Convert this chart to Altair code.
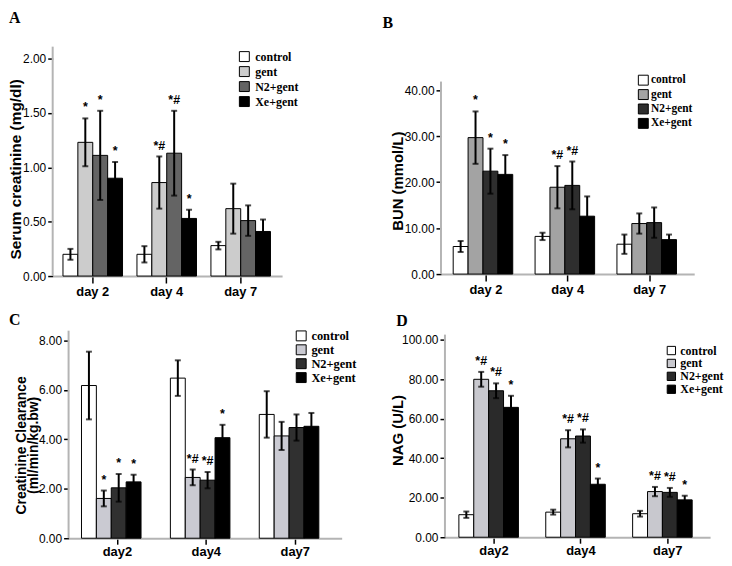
import altair as alt
import pandas as pd

groups = ["control", "gent", "N2+gent", "Xe+gent"]
days_top = ["day 2", "day 4", "day 7"]
days_bottom = ["day2", "day4", "day7"]

# A: Serum creatinine (mg/dl)  (order: day x group)
crea_mean = [0.20, 1.23, 1.11, 0.90, 0.20, 0.86, 1.13, 0.53, 0.28, 0.62, 0.51, 0.41]
crea_err = [0.05, 0.22, 0.41, 0.15, 0.075, 0.24, 0.39, 0.08, 0.035, 0.23, 0.14, 0.11]
crea_sig = ["", "*", "*", "*", "", "*#", "*#", "*", "", "", "", ""]

# B: BUN (mmol/L)
bun_mean = [6.0, 29.7, 22.4, 21.7, 8.2, 18.9, 19.3, 12.6, 6.5, 11.0, 11.2, 7.5]
bun_err = [1.2, 5.7, 4.9, 4.2, 0.8, 4.6, 5.2, 4.3, 2.1, 2.2, 3.3, 1.1]
bun_sig = ["", "*", "*", "*", "", "*#", "*#", "", "", "", "", ""]

# C: Creatinine clearance (ml/min/kg.bw)
cc_mean = [6.18, 1.61, 2.04, 2.28, 6.48, 2.46, 2.35, 4.07, 5.01, 4.14, 4.48, 4.53]
cc_err = [1.37, 0.32, 0.56, 0.29, 0.72, 0.32, 0.33, 0.52, 0.94, 0.57, 0.53, 0.54]
cc_sig = ["", "*", "*", "*", "", "*#", "*#", "*", "", "", "", ""]

# D: NAG (U/L)
nag_mean = [11.4, 79.9, 74.1, 65.7, 12.7, 49.8, 51.2, 26.8, 11.9, 23.1, 22.7, 18.9]
nag_err = [1.6, 3.75, 3.75, 5.85, 1.25, 4.35, 3.35, 2.9, 1.45, 2.35, 2.25, 2.1]
nag_sig = ["", "*#", "*#", "*", "", "*#", "*#", "*", "", "*#", "*#", "*"]

colors_A = ["#ffffff", "#cccccc", "#646464", "#000000"]
colors_B = ["#ffffff", "#a3a3a3", "#2e2e2e", "#000000"]
colors_C = ["#ffffff", "#cacad2", "#303030", "#000000"]
colors_D = ["#ffffff", "#c8c8ce", "#2a2a2a", "#000000"]

ticks_A = [0, 0.5, 1.0, 1.5, 2.0]
ticks_B = [0, 10, 20, 30, 40]
ticks_C = [0, 2, 4, 6, 8]
ticks_D = [0, 20, 40, 60, 80, 100]

AXIS_GRAY = "#b4b4b4"
SANS = "Liberation Sans"
SERIF = "Liberation Serif"


def panel(days, means, errs, sigs, colors, ticks, title, o):
    df = pd.DataFrame({
        "day": [d for d in days for _ in groups],
        "group": groups * len(days),
        "mean": means,
        "lo": [m - e for m, e in zip(means, errs)],
        "hi": [m + e for m, e in zip(means, errs)],
        "sig": sigs,
    })
    xenc = alt.X(
        "day:N", sort=days,
        scale=alt.Scale(paddingInner=o["pi"], paddingOuter=o["po"], align=o["align"]),
        axis=alt.Axis(title=None, labelAngle=0, labelFont=SANS, labelFontSize=13,
                      labelFontWeight="bold", labelColor="black", tickColor="black",
                      tickWidth=1.5, tickSize=o["xtick"], labelPadding=o["xpad"],
                      domainColor=AXIS_GRAY, domainWidth=2),
    )
    xoff = alt.XOffset("group:N", sort=groups,
                       scale=alt.Scale(paddingInner=0, paddingOuter=0))
    yscale = alt.Scale(domain=[0, o["dmax"]], nice=False, zero=True)
    yaxis = alt.Axis(values=ticks, format=".2f", title=title, titleFont=SANS,
                     titleFontSize=o["tfs"], titleFontWeight="bold", titleColor="black",
                     titleX=o["tx"], titleY=o["ty"], titleBaseline="middle",
                     titleAlign="center", titleLineHeight=12,
                     labelFont=SANS, labelFontSize=12, labelColor="black",
                     tickColor="black", tickSize=5, tickWidth=1.5, domain=False,
                     grid=False, labelPadding=2)
    base = alt.Chart(df)
    bars = base.mark_bar(stroke="black", strokeWidth=1).encode(
        x=xenc, xOffset=xoff,
        y=alt.Y("mean:Q", scale=yscale, axis=yaxis),
        fill=alt.Fill(
            "group:N", sort=groups,
            scale=alt.Scale(domain=groups, range=colors),
            legend=alt.Legend(orient="none", legendX=o["lx"], legendY=o["ly"], title=None,
                              symbolType="square", symbolSize=o["ss"],
                              symbolStrokeColor="black", symbolStrokeWidth=1,
                              labelFont=SERIF, labelFontSize=o["lfs"],
                              labelFontWeight="bold", labelColor="black",
                              rowPadding=o["rp"], labelOffset=o["lo"], padding=0),
        ),
    )
    rules = base.mark_rule(color="black", strokeWidth=2).encode(
        x=xenc, xOffset=xoff, y=alt.Y("lo:Q", title=title), y2="hi:Q")
    cap_hi = base.mark_tick(color="black", thickness=2, size=6).encode(
        x=xenc, xOffset=xoff, y=alt.Y("hi:Q", title=title))
    cap_lo = base.mark_tick(color="black", thickness=2, size=6).encode(
        x=xenc, xOffset=xoff, y=alt.Y("lo:Q", title=title))
    sig = base.mark_text(font=SANS, fontSize=12.5, fontWeight="bold", baseline="bottom",
                         dy=-4, color="black").encode(
        x=xenc, xOffset=xoff, y=alt.Y("hi:Q", title=title), text="sig:N")
    yline = alt.Chart(pd.DataFrame({"y0": [0], "y1": [o["amax"]]})).mark_rule(
        color=AXIS_GRAY, strokeWidth=2).encode(
        x=alt.value(0), y=alt.Y("y0:Q", title=title), y2="y1:Q")
    letter = alt.Chart(pd.DataFrame({"t": [o["letter"]]})).mark_text(
        font=SERIF, fontSize=16, fontWeight="bold", align="left", baseline="top",
        color="black").encode(x=alt.value(o["px"]), y=alt.value(o["py"]), text="t:N")
    return alt.layer(bars, rules, cap_hi, cap_lo, sig, yline, letter).properties(
        width=o["W"], height=o["H"])


A = panel(days_top, crea_mean, crea_err, crea_sig, colors_A, ticks_A,
          "Serum creatinine (mg/dl)",
          dict(W=231, H=231, dmax=2.11, amax=2.11, pi=0.195, po=0.148, align=0.47,
               xtick=7, xpad=3, tfs=15.5, tx=-37, ty=123, lx=187, ly=4, ss=100,
               lfs=12, rp=1.1, lo=5, letter="A", px=-44, py=-37))
B = panel(days_top, bun_mean, bun_err, bun_sig, colors_B, ticks_B,
          "BUN (mmol/L)",
          dict(W=255, H=229, dmax=49.5, amax=41.9, pi=0.202, po=0.1475, align=0.506,
               xtick=7, xpad=3, tfs=15, tx=-44, ty=135, lx=198, ly=28, ss=100,
               lfs=11.5, rp=-0.5, lo=2, letter="B", px=-59, py=-32))
C = panel(days_bottom, cc_mean, cc_err, cc_sig, colors_C, ticks_C,
          ["Creatinine Clearance", "(ml/min/kg.bw)"],
          dict(W=275, H=209, dmax=8.40, amax=8.40, pi=0.192, po=0.132, align=0.55,
               xtick=6, xpad=1, tfs=14, tx=-47, ty=115, lx=228, ly=-1, ss=100,
               lfs=12.5, rp=-1.2, lo=4, letter="C", px=-60, py=-19))
D = panel(days_bottom, nag_mean, nag_err, nag_sig, colors_D, ticks_D,
          "NAG (U/L)",
          dict(W=267, H=208, dmax=104.5, amax=102.5, pi=0.192, po=0.122, align=0.657,
               xtick=6, xpad=1, tfs=15, tx=-48, ty=100, lx=222, ly=14, ss=70,
               lfs=12, rp=-2.5, lo=3, letter="D", px=-49, py=-18))


def spacer(w):
    return alt.Chart(pd.DataFrame({"a": [0]})).mark_point(opacity=0).encode(
        x=alt.value(0), y=alt.value(0)).properties(width=w, height=1)


row1 = alt.hconcat(A, B, spacing=160, bounds="flush").resolve_scale(fill="independent")
row2 = alt.hconcat(spacer(16), C, spacer(104), D, spacing=0,
                   bounds="flush").resolve_scale(fill="independent")
chart = alt.vconcat(row1, row2, spacing=13).resolve_scale(
    fill="independent").properties(padding=0, background="white").configure_view(
    strokeWidth=0)

chart.save("out.html", embed_options={"renderer": "svg", "actions": False})
